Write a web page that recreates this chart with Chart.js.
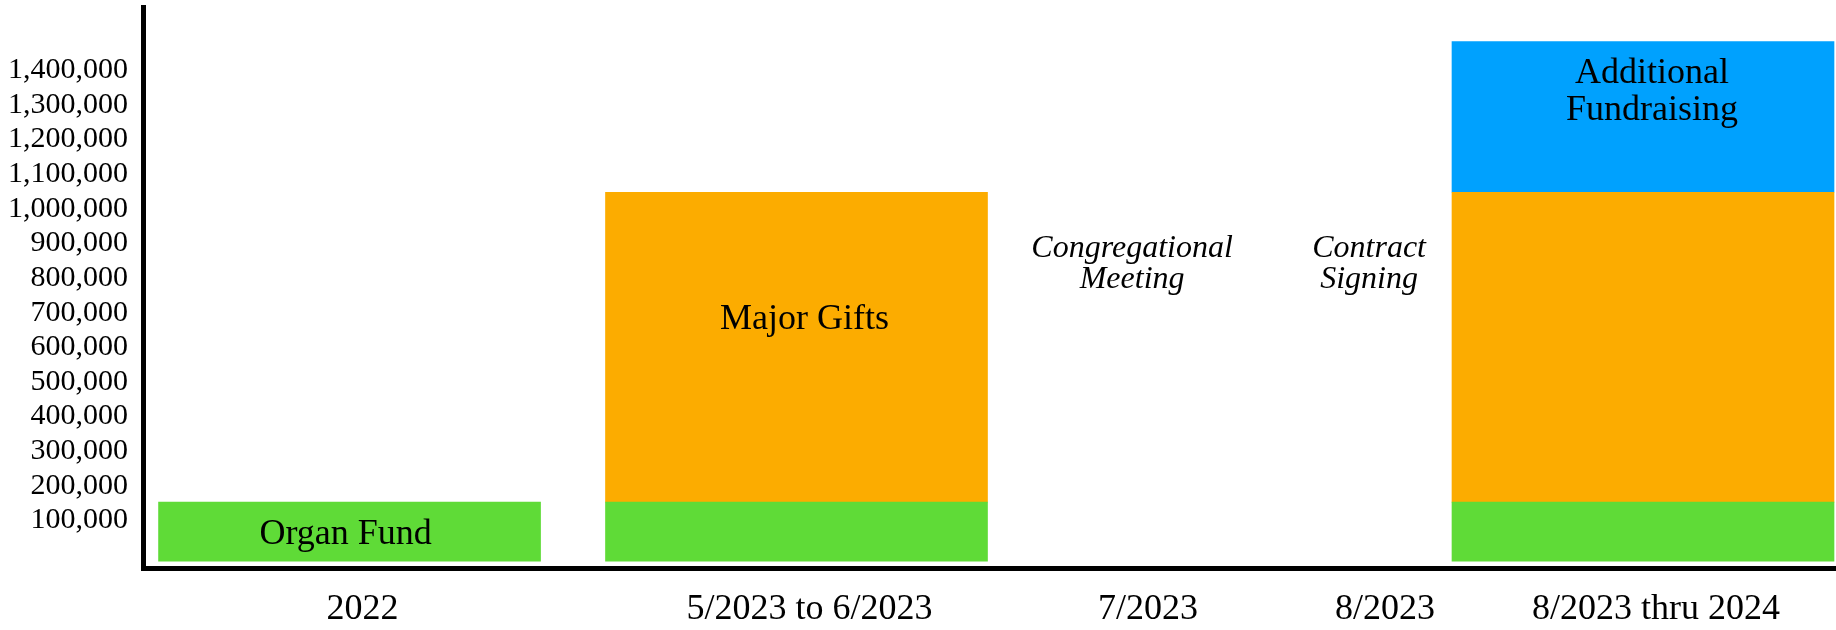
<!DOCTYPE html>
<html>
<head>
<meta charset="utf-8">
<script src="https://cdn.jsdelivr.net/npm/chart.js@4.4.0/dist/chart.umd.min.js"></script>
<style>
  html, body { margin: 0; padding: 0; background: #fff; }
</style>
</head>
<body>
<canvas id="plan_chart" width="1836" height="630"></canvas>
<script>
const periods = ['2022', '5/2023 to 6/2023', '7/2023', '8/2023', '8/2023 thru 2024'];
// where each period sits along the timeline, 0 = y axis, 100 = right edge
const periodPos = [12.2, 38.6, 58.6, 72.6, 88.6];
const organFund = [170000, 170000, null, null, 170000];
const majorGifts = [null, 895000, null, null, 895000];
const additionalFunds = [null, null, null, null, 435000];
const segmentLabels = [['Organ Fund'], ['Major Gifts'], ['Additional', 'Fundraising']];
const milestones = [null, null, ['Congregational', 'Meeting'], ['Contract', 'Signing'], null];
const milestoneY = 878000;
const yTicks = [100000, 200000, 300000, 400000, 500000, 600000, 700000,
  800000, 900000, 1000000, 1100000, 1200000, 1300000, 1400000];

const toPoints = arr => arr.map((v, i) => ({ x: periodPos[i], y: v })).filter(p => p.y !== null);

const FONT = "'Liberation Serif', 'Times New Roman', serif";
Chart.defaults.font.family = FONT;
Chart.defaults.color = '#000';
Chart.defaults.plugins.legend.display = false;
Chart.defaults.plugins.tooltip.enabled = false;

// text inside the first bar of each dataset
const segmentText = {
  id: 'segmentText',
  afterDatasetsDraw(chart, args, opts) {
    const ctx = chart.ctx;
    ctx.save();
    ctx.fillStyle = '#000';
    ctx.font = opts.size + 'px ' + FONT;
    ctx.textAlign = 'center';
    ctx.textBaseline = 'middle';
    chart.data.datasets.forEach((ds, i) => {
      const bar = chart.getDatasetMeta(i).data[0];
      if (!bar) return;
      const p = bar.getProps(['x', 'y', 'base'], true);
      const lines = segmentLabels[i];
      const mid = (p.y + p.base) / 2 + opts.shift[i];
      const top = mid - (lines.length - 1) * opts.lineHeight / 2;
      lines.forEach((t, k) => ctx.fillText(t, p.x + opts.dx[i], top + k * opts.lineHeight));
    });
    ctx.restore();
  }
};

// italic notes for the periods without bars
const milestoneText = {
  id: 'milestoneText',
  afterDatasetsDraw(chart, args, opts) {
    const ctx = chart.ctx;
    const xs = chart.scales.x, ys = chart.scales.y;
    ctx.save();
    ctx.fillStyle = '#000';
    ctx.font = 'italic ' + opts.size + 'px ' + FONT;
    ctx.textAlign = 'center';
    ctx.textBaseline = 'alphabetic';
    milestones.forEach((lines, i) => {
      if (!lines) return;
      const x = xs.getPixelForValue(periodPos[i]) + opts.dx;
      const y = ys.getPixelForValue(milestoneY);
      lines.forEach((t, k) => ctx.fillText(t, x, y + k * opts.lineHeight));
    });
    ctx.restore();
  }
};

const data = {
  datasets: [
    { label: 'Organ Fund', data: toPoints(organFund), backgroundColor: '#5FDB37' },
    { label: 'Major Gifts', data: toPoints(majorGifts), backgroundColor: '#FCAC00' },
    { label: 'Additional Fundraising', data: toPoints(additionalFunds), backgroundColor: '#00A1FE' }
  ]
};
data.datasets.forEach(ds => {
  ds.borderWidth = 0;
  ds.barThickness = 382;
});

const config = {
  type: 'bar',
  data: data,
  plugins: [segmentText, milestoneText],
  options: {
    responsive: false,
    animation: false,
    layout: { padding: { top: 7, left: 0, right: 0, bottom: 0 } },
    scales: {
      x: {
        type: 'linear',
        offset: false,
        stacked: true,
        min: 0,
        max: 100,
        afterBuildTicks: s => { s.ticks = periodPos.map(v => ({ value: v })); },
        afterFit: s => { s.height = 62; s.paddingLeft = 0; s.paddingRight = 0; },
        grid: { display: false, drawTicks: false },
        border: { display: true, color: '#000', width: 5 },
        ticks: {
          font: { size: 36 },
          padding: 20,
          labelOffset: 13,
          autoSkip: false,
          maxRotation: 0,
          callback: (v, i) => periods[i]
        }
      },
      y: {
        stacked: true,
        min: -20000,
        max: 1600000,
        afterBuildTicks: s => { s.ticks = yTicks.map(v => ({ value: v })); },
        afterFit: s => { s.width = 143; s.paddingTop = 0; s.paddingBottom = 0; },
        grid: { display: false, drawTicks: false },
        border: { display: true, color: '#000', width: 5 },
        ticks: {
          font: { size: 30 },
          padding: 15,
          labelOffset: -6,
          callback: v => v.toLocaleString('en-US')
        }
      }
    },
    plugins: {
      segmentText: { size: 36, lineHeight: 37, shift: [3, -28, -25], dx: [-4, 8, 9] },
      milestoneText: { size: 32, lineHeight: 31, dx: -3 }
    }
  }
};

new Chart(document.getElementById('plan_chart'), config);
</script>
</body>
</html>
